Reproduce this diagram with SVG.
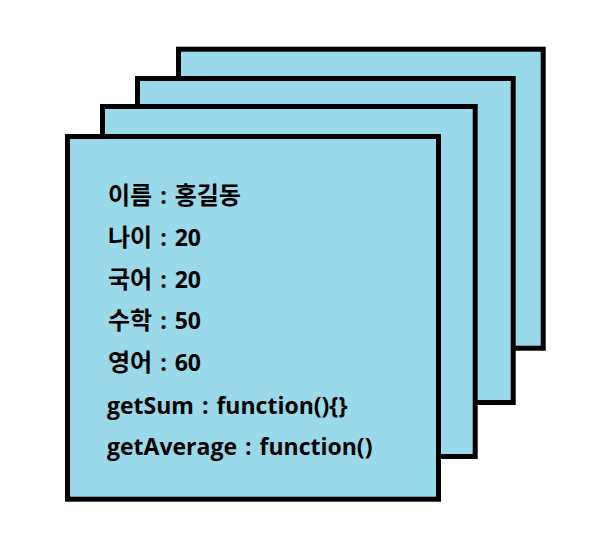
<svg xmlns="http://www.w3.org/2000/svg" width="609" height="560" viewBox="0 0 609 560">
<style>
.card{fill:#99D9EA;stroke:#000;stroke-width:5}
.t{font-family:"Open Sans","Noto Sans CJK KR",sans-serif;font-weight:bold;font-size:23px;fill:#000}
.k{font-family:"Noto Sans CJK KR",sans-serif;font-size:24px;font-weight:bold}
.w{word-spacing:2px}
.l{word-spacing:2px}
</style>
<rect width="609" height="560" fill="#fff"/>
<g id="card4"><rect class="card" x="178.5" y="49.2" width="364.7" height="299"/></g>
<g id="card3"><rect class="card" x="137.5" y="78.5" width="375.7" height="324"/></g>
<g id="card2"><rect class="card" x="102.5" y="106.5" width="372.7" height="350"/></g>
<g id="card1">
<rect class="card" x="67.5" y="136.5" width="371" height="362.7"/>
<text class="t w" x="108" y="204"><tspan class="k">이름</tspan> : <tspan class="k">홍길동</tspan></text>
<text class="t w" x="108" y="246"><tspan class="k">나이</tspan> : 20</text>
<text class="t w" x="108" y="287.5"><tspan class="k">국어</tspan> : 20</text>
<text class="t w" x="108" y="329"><tspan class="k">수학</tspan> : 50</text>
<text class="t w" x="108" y="370.5"><tspan class="k">영어</tspan> : 60</text>
<text class="t l" x="107" y="414">getSum : function(){}</text>
<text class="t l" x="107" y="455">getAverage : function()</text>
</g>
<g id="connectors"/>
</svg>
